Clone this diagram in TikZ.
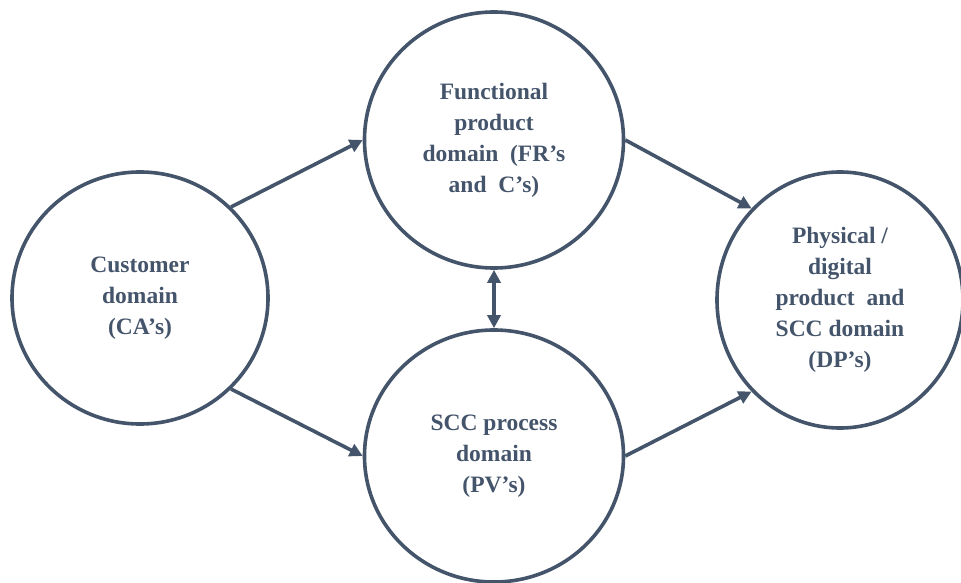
\documentclass[tikz,border=0pt]{standalone}
\usepackage{fontspec}
\setmainfont{Liberation Serif}
\usetikzlibrary{shapes.geometric,arrows.meta}
\definecolor{slate}{HTML}{44546A}
\begin{document}
\begin{tikzpicture}[x=1pt,y=-1pt,
  domainnode/.style={ellipse, draw=slate, line width=3.6pt, inner sep=0pt,
    align=center, text=slate,
    font=\bfseries\fontsize{23.5}{31}\selectfont},
  flow/.style={draw=slate, line width=3.6pt,
    -{Triangle[length=13pt,width=13pt]}},
  twoway/.style={draw=slate, line width=3.6pt,
    {Triangle[length=13pt,width=13pt]}-{Triangle[length=13pt,width=13pt]}}]
\useasboundingbox (0,0) rectangle (961,583);

\node[domainnode, minimum width=256pt, minimum height=252pt] (L) at (140,298)
  {Customer\\domain\\(CA’s)};
\node[domainnode, minimum width=259pt, minimum height=256pt] (T) at (494,140)
  {Functional\\product\\domain\ \ (FR’s\\and\ \ C’s)};
\node[domainnode, minimum width=259pt, minimum height=252pt] (B) at (494,456)
  {SCC process\\domain\\(PV’s)};
\node[domainnode, minimum width=246pt, minimum height=256pt] (R) at (840,300)
  {Physical /\\digital\\product\ \ and\\SCC domain\\(DP’s)};

\draw[flow] (L.45) -- (T.west);
\draw[flow] (L.-45) -- (B.west);
\draw[flow] (T.east) -- (R.134);
\draw[flow] (B.east) -- (R.226);
\draw[twoway] (T.south) -- (B.north);
\end{tikzpicture}
\end{document}
